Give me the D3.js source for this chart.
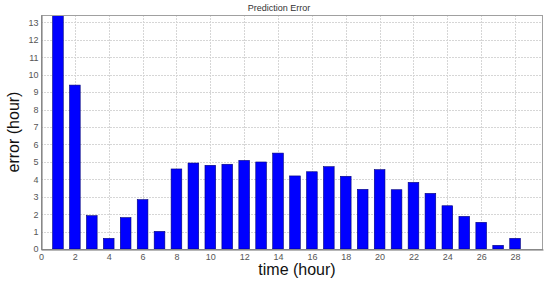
<!DOCTYPE html>
<html>
<head>
<meta charset="utf-8">
<script src="https://cdn.jsdelivr.net/npm/d3@7"></script>
<style>
  body { margin: 0; background: #fff; }
  svg text { font-family: "Liberation Sans", Arial, sans-serif; }
</style>
</head>
<body>
<div id="chart"></div>
<script>
// hours 1..28 and the prediction error for each
const hours = d3.range(1, 29);
const errors = [14.5, 9.4, 1.91, 0.61, 1.8, 2.83, 1.01, 4.59, 4.93, 4.8, 4.86, 5.08, 4.99, 5.5,
  4.19, 4.43, 4.72, 4.17, 3.42, 4.55, 3.4, 3.82, 3.19, 2.48, 1.87, 1.53, 0.21, 0.61];
const xTicks = d3.range(0, 29, 2);
const yTicks = d3.range(0, 14);

const width = 550, height = 286;
const margin = {top: 15, right: 7, bottom: 37, left: 41};

const svg = d3.select('#chart')
  .append('svg')
    .attr('width', width)
    .attr('height', height);

const x = d3.scaleLinear()
  .domain([0, 29.65])
  .range([margin.left, width - margin.right]);

const y = d3.scaleLinear()
  .domain([0, 13.42])
  .range([height - margin.bottom, margin.top]);

// grid
const grid = svg.append('g')
  .attr('stroke', '#d6d6d6')
  .attr('stroke-width', 1)
  .attr('stroke-dasharray', '2,1');

grid.selectAll('.gx')
  .data(xTicks.filter(d => d > 0))
  .enter()
  .append('line')
    .attr('x1', d => Math.round(x(d)) + 0.5)
    .attr('x2', d => Math.round(x(d)) + 0.5)
    .attr('y1', margin.top)
    .attr('y2', height - margin.bottom);

grid.selectAll('.gy')
  .data(yTicks.filter(d => d > 0))
  .enter()
  .append('line')
    .attr('x1', margin.left)
    .attr('x2', width - margin.right)
    .attr('y1', d => Math.round(y(d)) + 0.5)
    .attr('y2', d => Math.round(y(d)) + 0.5);

// bars
const barW = x(0.63) - x(0);
const plot = svg.append('g');
plot.append('clipPath').attr('id', 'clip')
  .append('rect')
    .attr('x', margin.left)
    .attr('y', margin.top)
    .attr('width', width - margin.left - margin.right)
    .attr('height', height - margin.top - margin.bottom);

plot.append('g')
  .attr('clip-path', 'url(#clip)')
  .selectAll('rect')
  .data(hours)
  .enter()
  .append('rect')
    .attr('x', (d) => x(d) - barW / 2)
    .attr('y', (d, i) => y(errors[i]))
    .attr('width', barW)
    .attr('height', (d, i) => y(0) - y(errors[i]))
    .attr('fill', '#0000ff')
    .attr('stroke', '#00007a')
    .attr('stroke-width', 0.6);

// frame
svg.append('rect')
  .attr('x', margin.left + 0.5)
  .attr('y', margin.top + 0.5)
  .attr('width', width - margin.left - margin.right - 1)
  .attr('height', height - margin.top - margin.bottom)
  .attr('fill', 'none')
  .attr('stroke', '#a0a0a0');

// axes
const xAxis = svg.append('g')
  .attr('transform', `translate(0,${height - margin.bottom + 0.5})`)
  .call(d3.axisBottom(x).tickValues(xTicks).tickSize(0).tickPadding(4));
xAxis.select('.domain').attr('stroke', '#707070');
xAxis.selectAll('text').attr('font-size', 9).attr('fill', '#555');

const yAxis = svg.append('g')
  .attr('transform', `translate(${margin.left + 0.5},0)`)
  .call(d3.axisLeft(y).tickValues(yTicks).tickSize(0).tickPadding(3));
yAxis.select('.domain').attr('stroke', '#707070');
yAxis.selectAll('text').attr('font-size', 9).attr('fill', '#555');

// labels
svg.append('text')
  .attr('x', 279)
  .attr('y', 11)
  .attr('text-anchor', 'middle')
  .attr('font-size', 9)
  .attr('fill', '#333')
  .text('Prediction Error');

svg.append('text')
  .attr('x', 297)
  .attr('y', 275)
  .attr('text-anchor', 'middle')
  .attr('font-size', 16)
  .attr('fill', '#111')
  .text('time (hour)');

svg.append('text')
  .attr('transform', `translate(19,${(margin.top + height - margin.bottom) / 2}) rotate(-90)`)
  .attr('text-anchor', 'middle')
  .attr('font-size', 16)
  .attr('fill', '#111')
  .text('error (hour)');
</script>
</body>
</html>
